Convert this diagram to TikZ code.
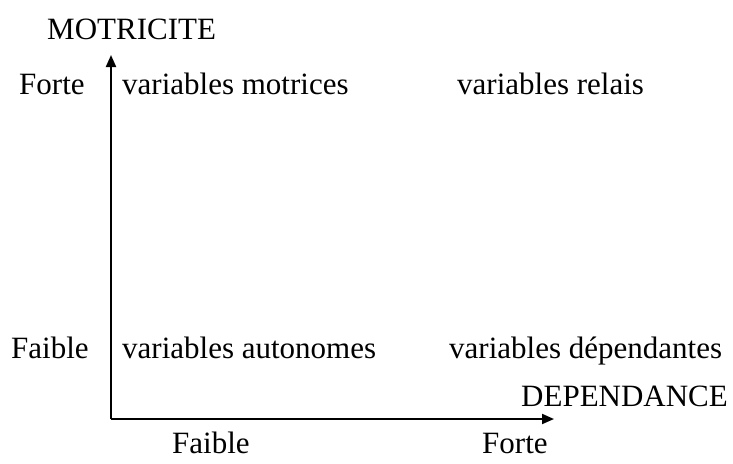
\documentclass[tikz,border=0pt]{standalone}
\usepackage{fontspec}
\setmainfont{Liberation Serif}
\usetikzlibrary{arrows.meta}
\begin{document}
\begin{tikzpicture}[x=1pt,y=-1pt,
  lbl/.style={anchor=base west,inner sep=0pt,font=\fontsize{31}{37}\selectfont},
  axis/.style={line width=2pt,-{Triangle[length=12pt,width=10pt]}}]
\useasboundingbox (0,0) rectangle (733,463);
% axes
\coordinate (o) at (111,419);
\coordinate (ytop) at (111,55);
\coordinate (xend) at (554,419);
\draw[axis] (o) -- (ytop);
\draw[axis] (o) -- (xend);
% axis titles
\node[lbl] (my) at (47,39) {MOTRICITE};
\node[lbl] (dx) at (521,406) {DEPENDANCE};
% level labels
\node[lbl] (yhi) at (19,94) {Forte};
\node[lbl] (ylo) at (11,358) {Faible};
\node[lbl] (xlo) at (172,453) {Faible};
\node[lbl] (xhi) at (482,453) {Forte};
% quadrants
\node[lbl] (q1) at (122,94) {variables motrices};
\node[lbl] (q2) at (457,94) {variables relais};
\node[lbl] (q3) at (122,358) {variables autonomes};
\node[lbl] (q4) at (449,358) {variables dépendantes};
\end{tikzpicture}
\end{document}
